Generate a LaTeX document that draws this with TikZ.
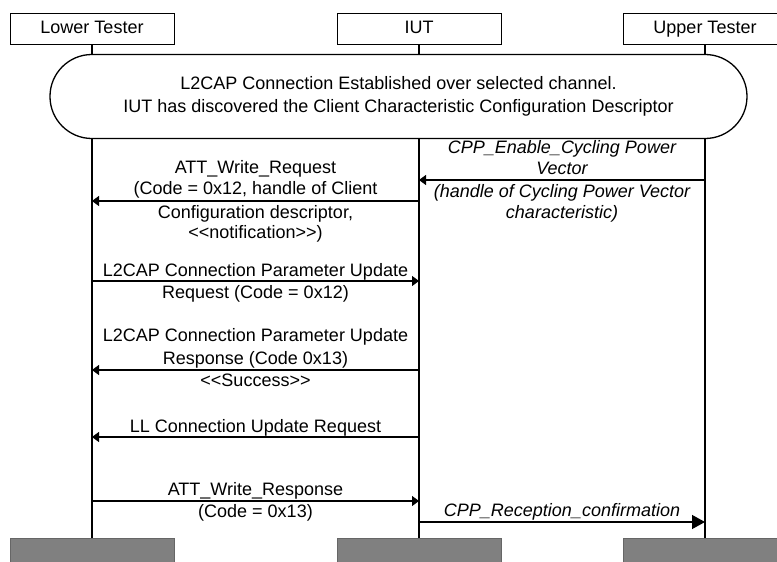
\documentclass[tikz,border=0pt]{standalone}
\usepackage{fontspec}
\setmainfont{Liberation Sans}
\usetikzlibrary{arrows.meta}
\begin{document}
\begin{tikzpicture}[x=1pt,y=-1pt,
  lbl/.style={font=\fontsize{18}{21}\selectfont, inner sep=0pt, anchor=base},
  ilbl/.style={lbl, font=\fontsize{18}{21}\selectfont\itshape},
  hdr/.style={draw, line width=1pt, fill=white, minimum width=164pt, minimum height=31pt, inner sep=0pt, text height=13pt, text depth=3pt, font=\fontsize{18}{21}\selectfont},
  foot/.style={draw=black!60, fill=black!50, line width=0.8pt, minimum width=164pt, minimum height=30pt, anchor=north, inner sep=0pt},
  life/.style={line width=1.5pt},
  msg/.style={line width=1.3pt, -{Triangle[length=7pt,width=10pt]}},
  bigmsg/.style={line width=1.3pt, -{Triangle[length=13pt,width=14pt]}},
]
\useasboundingbox (0,0) rectangle (777,562);
\clip (0,0) rectangle (777,562);

% headers
\node[hdr] (lt) at (92,28.5) {Lower Tester};
\node[hdr] (iut) at (419,28.5) {IUT};
\node[hdr] (ut) at (705,28.5) {Upper Tester};

% footers
\node[foot] (ltf) at (92,538) {};
\node[foot] (iutf) at (419,538) {};
\node[foot] (utf) at (705,538) {};

% lifelines
\draw[life] (lt.south) -- (ltf.north);
\draw[life] (iut.south) -- (iutf.north);
\draw[life] (ut.south) -- (utf.north);

% establishment oval
\node[draw, line width=1.3pt, fill=white, rounded corners=41.9pt, minimum width=697pt, minimum height=84pt, inner sep=0pt, align=center, font=\fontsize{18}{23}\selectfont] (est) at (398.5,96.5)
  {L2CAP Connection Established over selected channel.\\IUT has discovered the Client Characteristic Configuration Descriptor};

% msg 1: CPP_Enable (Upper -> IUT)
\node[ilbl] (m1a) at (562,153.5) {CPP\_Enable\_Cycling Power};
\node[ilbl] (m1b) at (562,174.5) {Vector};
\node[ilbl] (m1c) at (562,197.5) {(handle of Cycling Power Vector};
\node[ilbl] (m1d) at (562,218.5) {characteristic)};
\draw[msg] (ut.south |- 0,180) -- (iut.south |- 0,180);

% msg 2: ATT_Write_Request (IUT -> Lower)
\node[lbl] (m2a) at (255.5,173.5) {ATT\_Write\_Request};
\node[lbl] (m2b) at (255.5,194.5) {(Code = 0x12, handle of Client};
\node[lbl] (m2c) at (255.5,218.5) {Configuration descriptor,};
\node[lbl] (m2d) at (255.5,238.5) {<{}<notification>{}>)};
\draw[msg] (iut.south |- 0,201) -- (lt.south |- 0,201);

% msg 3: L2CAP request (Lower -> IUT)
\node[lbl] (m3a) at (255.5,276.5) {L2CAP Connection Parameter Update};
\node[lbl] (m3b) at (255.5,298.5) {Request (Code = 0x12)};
\draw[msg] (lt.south |- 0,281) -- (iut.south |- 0,281);

% msg 4: L2CAP response (IUT -> Lower)
\node[lbl] (m4a) at (255.5,341.5) {L2CAP Connection Parameter Update};
\node[lbl] (m4b) at (255.5,364.5) {Response (Code 0x13)};
\node[lbl] (m4c) at (255.5,386.5) {<{}<Success>{}>};
\draw[msg] (iut.south |- 0,370) -- (lt.south |- 0,370);

% msg 5: LL Connection Update Request (IUT -> Lower)
\node[lbl] (m5a) at (255.5,432.5) {LL Connection Update Request};
\draw[msg] (iut.south |- 0,437) -- (lt.south |- 0,437);

% msg 6: ATT_Write_Response (Lower -> IUT)
\node[lbl] (m6a) at (255.5,495.5) {ATT\_Write\_Response};
\node[lbl] (m6b) at (255.5,517.5) {(Code = 0x13)};
\draw[msg] (lt.south |- 0,501) -- (iut.south |- 0,501);

% msg 7: CPP_Reception_confirmation (IUT -> Upper)
\node[ilbl] (m7a) at (562,516.5) {CPP\_Reception\_confirmation};
\draw[bigmsg] (iut.south |- 0,522) -- (ut.south |- 0,522);
\end{tikzpicture}
\end{document}
